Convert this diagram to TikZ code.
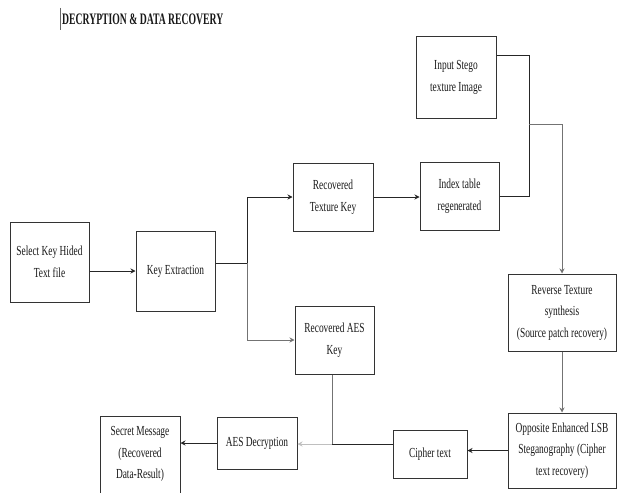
\documentclass[tikz,border=0pt]{standalone}
\usepackage{fontspec}
\setmainfont{Liberation Serif}
\newfontfamily\boxfont[FakeStretch=0.68]{Liberation Serif}
\newfontfamily\titlefont[FakeStretch=0.605]{Liberation Serif}
\usetikzlibrary{arrows.meta}
\begin{document}
\begin{tikzpicture}[x=1pt,y=-1pt,
  box/.style={draw=black!80, line width=1pt, align=center, inner sep=0pt,
    font=\boxfont\fontsize{13.8}{21.5}\selectfont, text=black!90},
  ln/.style={draw=black!85, line width=1pt},
  lng/.style={draw=black!55, line width=0.9pt},
  lnl/.style={draw=black!25, line width=0.9pt},
  tip/.style={-{Stealth[length=5pt,width=5pt]}},
]
\useasboundingbox[fill=white] (0,0) rectangle (617,492);

% title
\draw[draw=black!60, line width=1pt] (60.5,8) -- (60.5,30);
\node[anchor=base west, inner sep=0pt, font=\titlefont\bfseries\fontsize{16}{18}\selectfont, text=black!90]
  (title) at (62,25) {DECRYPTION \& DATA RECOVERY};

% boxes
\node[box, minimum width=79pt, minimum height=80pt] (sel) at (49.5,262) {Select Key Hided\\Text file};
\node[box, minimum width=79pt, minimum height=80pt] (kex) at (175.5,271) {Key Extraction};
\node[box, minimum width=80pt, minimum height=68pt] (rtk) at (333,197) {Recovered\\Texture Key};
\node[box, minimum width=79pt, minimum height=68pt] (rak) at (334.5,340) {Recovered AES\\Key};
\node[box, minimum width=79pt, minimum height=68pt] (idx) at (459.5,196) {Index table\\regenerated};
\node[box, minimum width=80pt, minimum height=81pt] (stego) at (456,77.5) {Input Stego\\texture Image};
\node[box, minimum width=108pt, minimum height=77pt] (rev) at (562,312.5) {Reverse Texture\\synthesis\\(Source patch recovery)};
\node[box, minimum width=108pt, minimum height=75pt] (opp) at (562,450.5) {Opposite Enhanced LSB\\Steganography (Cipher\\text recovery)};
\node[box, minimum width=74pt, minimum height=48pt] (cip) at (430,454) {Cipher text};
\node[box, minimum width=80pt, minimum height=52pt] (aes) at (257,443) {AES Decryption};
\node[box, minimum width=80pt, minimum height=82pt] (sec) at (140,457) {};
\node[align=center, inner sep=0pt, font=\boxfont\fontsize{13.8}{21.5}\selectfont, text=black!90]
  (sectext) at (140,454) {Secret Message\\(Recovered\\Data-Result)};

% junctions
\coordinate (j1) at (247,263);
\coordinate (m1) at (529,124);
\coordinate (m2) at (332,444);

% connectors
\draw[ln, tip] (sel.east |- kex.west) -- (kex.west);
\draw[ln] (kex.east |- j1) -- (j1);
\draw[ln, tip] (j1) |- (rtk.west);
\draw[lng, tip] (j1) |- (rak.west);
\draw[ln, tip] (rtk.east) -- (idx.west |- rtk.east);
\draw[ln] ([yshift=22pt]stego.east) -| (m1);
\draw[ln] (idx.east) -| (m1);
\draw[lng, tip] (m1) -| (rev.north);
\draw[lng, tip] (rev.south) -- (opp.north);
\draw[ln, tip] (opp.west) -- (opp.west -| cip.east);
\draw[ln] (cip.west |- m2) -- (m2);
\draw[lng] (rak.south -| m2) -- (m2);
\draw[lnl, tip] (m2) -- (aes.east |- m2);
\draw[ln, tip] (aes.west) -- (aes.west -| sec.east);
\end{tikzpicture}
\end{document}
